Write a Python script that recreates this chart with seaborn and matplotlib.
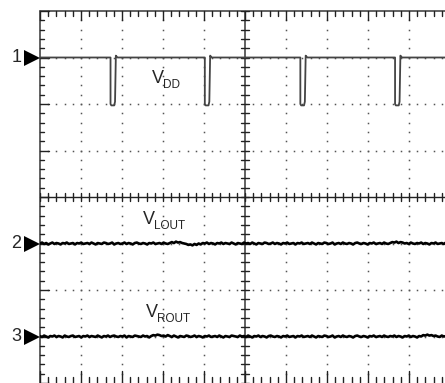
import numpy as np
import pandas as pd
import matplotlib
matplotlib.use("Agg")
import matplotlib.pyplot as plt
import seaborn as sns

# screen in divisions: 10 x 8, centre at (5, 0)
ch1_level = 3.0
ch1_low = 2.0
pulse_starts = [1.72, 4.02, 6.35, 8.66]
pulse_width = 0.11

ch2_level = -1.0
ch3_level = -3.0
# trace wobble, in 1/100 division
ch2_noise = [0, 2, -1, 1, -2, 0, 2, -1, 1, 0, -2, 1, 0, 2, -1, 0, 1, -2, 1, 0,
             2, -1, 0, 1, -1, 2, 0, -2, 1, 0, -1, 2, 1, -1, 0, 2, -2, 0, 1, -1,
             0, 2, -1, 1, 0, -2, 1, 2, 0, -1, 1, 0, -2, 1, 0, 2, -1, 0, 1, -1,
             2, 0, -1, 1, 3, 1, 4, 2, 3, 1, 0, -1, -3, -2, -4, -1, -3, 0, -2, 1,
             0, 2, -1, 1, 0, -2, 1, 0, 2, -1, 1, 0, -1, 2, 0, -2, 1, 0, -1, 2,
             0, 1, -1, 2, 0, -2, 1, 0, -1, 2, 1, -1, 0, 2, -1, 1, 0, -2, 1, 0,
             2, -1, 0, 1, -2, 1, 0, 2, -1, 0, 1, -1, 2, 0, -2, 1, 0, -1, 2, 1,
             -1, 0, 2, -2, 0, 1, -1, 2, 0, -1, 1, 0, -2, 1, 2, 0, -1, 1, 0, -2,
             1, 0, 2, -1, 0, 1, -1, 2, 0, -1, 1, 3, 2, 4, 1, 3, 2, 0, 1, -1,
             2, 0, -1, 1, 0, 2, -1, 1, 0, -2, 1, 0, 2, -1, 0, 1, -1, 2, 0, 1]
ch3_noise = [1, -1, 2, 0, -2, 1, 0, 2, -1, 1, 0, -2, 2, 0, -1, 1, 2, -1, 0, 1,
             -2, 1, 0, 2, -1, 1, 0, -1, 2, 0, -2, 1, 0, 2, -1, 1, 2, 0, -1, 1,
             0, 2, -2, 1, 0, -1, 2, 1, 0, -1, 2, 0, 1, -2, 1, 3, 2, 4, 3, 1,
             2, 0, 3, 1, -1, 2, 0, -2, 1, 0, -1, 2, 1, -1, 0, 2, -1, 1, 0, -2,
             1, 0, 2, -1, 0, 1, -1, 2, 0, -2, 1, 0, -1, 2, 1, 0, -1, 2, 0, 1,
             -1, 2, 0, -2, 1, 0, 2, -1, 1, 0, -2, 1, 2, 0, -1, 1, 0, -2, 1, 0,
             2, -1, 0, 1, -2, 1, 0, 2, -1, 0, 1, -1, 2, 0, -2, 1, 0, -1, 2, 1,
             -1, 0, 2, -2, 0, 1, -1, 2, 0, -1, 1, 0, -2, 1, 2, 0, -1, 1, 0, -2,
             1, 0, 2, -1, 0, 1, -1, 2, 0, -1, 1, 0, 2, -1, 1, 0, -2, 1, 0, 2,
             -1, 1, 0, -2, 1, 0, 3, 2, 4, 2, 3, 1, 2, 0, -1, 2, 0, 1, -1, 2]

ch_labels = [("1", ch1_level), ("2", ch2_level), ("3", ch3_level)]

# build channel 1 trace from the pulse list
x1, y1 = [0.0], [ch1_level]
for p in pulse_starts:
    x1 += [p, p, p + 0.02, p + pulse_width - 0.02, p + pulse_width, p + pulse_width + 0.02, p + pulse_width + 0.06]
    y1 += [ch1_level, ch1_low, ch1_low - 0.03, ch1_low - 0.03, ch1_low + 0.05, ch1_level + 0.04, ch1_level]
x1.append(10.0)
y1.append(ch1_level)
df1 = pd.DataFrame({"t": x1, "v": y1})

t = np.linspace(0, 10, len(ch2_noise))
df2 = pd.DataFrame({"t": t, "v": ch2_level + np.array(ch2_noise) * 0.01})
t3 = np.linspace(0, 10, len(ch3_noise))
df3 = pd.DataFrame({"t": t3, "v": ch3_level + np.array(ch3_noise) * 0.01})

sns.set_style("white")
plt.rcParams["font.family"] = ["Liberation Sans", "DejaVu Sans"]

fig = plt.figure(figsize=(4.45, 3.83), dpi=100)
ax = fig.add_axes([40 / 445, 0, 410 / 445, 372 / 383])

grid_c = "#555555"
minor = np.round(np.arange(0, 10.01, 0.2), 2)
minor_y = np.round(np.arange(-4, 4.01, 0.2), 2)

# dotted graticule
for gx in [1, 2, 3, 4, 6, 7, 8, 9]:
    ax.plot([gx] * len(minor_y), minor_y, ls="none", marker="s", ms=1.1, color=grid_c, mew=0)
for gy in [-3, -2, -1, 1, 2, 3]:
    ax.plot(minor, [gy] * len(minor), ls="none", marker="s", ms=1.1, color=grid_c, mew=0)

# borders and centre axes
ax.plot([0, 0], [-4, 4], color=grid_c, lw=1.3, clip_on=False)
ax.plot([0, 10], [4, 4], color=grid_c, lw=1.3, clip_on=False)
ax.plot([5, 5], [-4, 4], color=grid_c, lw=1.3)
ax.plot([0, 10], [0, 0], color="#222222", lw=1.0)

for yy in minor_y:
    major = abs(yy - round(yy)) < 1e-6
    ax.plot([0, 0.22 if major else 0.1], [yy, yy], color="#222222", lw=1.0, clip_on=False)
    ax.plot([4.9, 5.1], [yy, yy], color="#222222", lw=1.0)
for xx in minor:
    major = abs(xx - round(xx)) < 1e-6
    ax.plot([xx, xx], [4, 3.8 if major else 3.9], color="#222222", lw=1.0, clip_on=False)
    ax.plot([xx, xx], [-4, -3.75 if major else -3.88], color="#222222", lw=1.0, clip_on=False)
    ax.plot([xx, xx], [-0.09, 0.09], color="#222222", lw=1.0)

# traces
sns.lineplot(data=df1, x="t", y="v", ax=ax, color="#444444", lw=1.3, sort=False, estimator=None)
sns.lineplot(data=df2, x="t", y="v", ax=ax, color="black", lw=1.9, sort=False, estimator=None)
sns.lineplot(data=df3, x="t", y="v", ax=ax, color="black", lw=1.9, sort=False, estimator=None)
ax.set_xlim(0, 10)
ax.set_ylim(-4, 4)
ax.axis("off")

# channel markers on the left
for name, lvl in ch_labels:
    ax.plot([-0.2], [lvl], marker=">", ms=12, color="black", mew=0, clip_on=False)
    ax.text(-0.45, lvl, name, ha="right", va="center", fontsize=13)

def sig_label(x, y, sub):
    fig.text(x / 445, 1 - y / 383, "V", fontsize=13, ha="left", va="baseline")
    fig.text((x + 11) / 445, 1 - (y + 5) / 383, sub, fontsize=8.5, ha="left", va="baseline")

sig_label(152, 83, "DD")
sig_label(143, 224, "LOUT")
sig_label(146, 317, "ROUT")

fig.savefig("out.png", dpi=100)
